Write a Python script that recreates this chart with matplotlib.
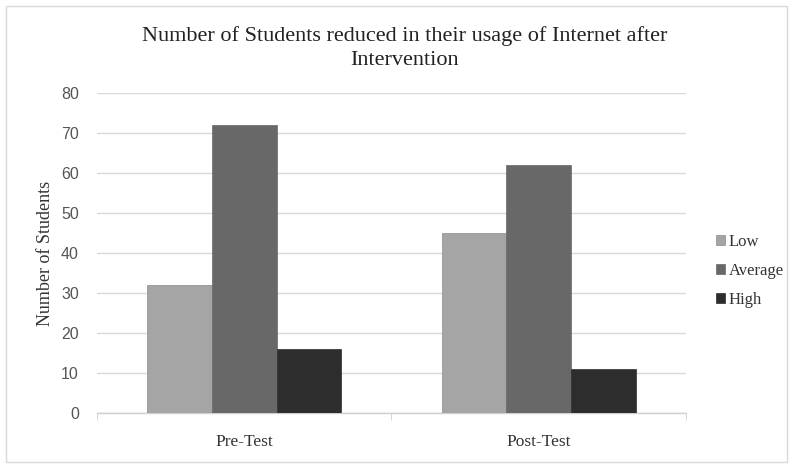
import matplotlib
matplotlib.use("Agg")
import matplotlib.pyplot as plt
from matplotlib.patches import Rectangle
import numpy as np

categories = ["Pre-Test", "Post-Test"]
series_names = ["Low", "Average", "High"]
low = [32, 45]
average = [72, 62]
high = [16, 11]
yticks = [0, 10, 20, 30, 40, 50, 60, 70, 80]

colors = ["#a5a5a5", "#686868", "#2d2d2d"]
serif = "Liberation Serif"

fig = plt.figure(figsize=(7.93, 4.67), dpi=100)
ax = fig.add_axes([0.1223, 0.1163, 0.7427, 0.6839])

x = np.arange(len(categories))
w = 0.22
for i, (vals, name) in enumerate(zip([low, average, high], series_names)):
    ax.bar(x + (i - 1) * w, vals, width=w, color=colors[i], label=name,
           edgecolor="#8a8a8a" if i == 0 else colors[i], linewidth=0.5, zorder=3)

ax.set_xlim(-0.5, 1.5)
ax.set_ylim(0, 80)
ax.set_yticks(yticks)
ax.set_yticklabels([str(t) for t in yticks], fontfamily="Liberation Sans",
                   fontsize=11.5, color="#555555")
ax.yaxis.grid(True, color="#d9d9d9", linewidth=1.0, zorder=0)
ax.tick_params(axis="y", length=0, pad=13)
ax.set_xticks(x)
ax.set_xticklabels(categories, fontfamily=serif, fontsize=12.5, color="#333333")
ax.tick_params(axis="x", length=0, pad=15)
ax.set_xticks([-0.5, 0.5, 1.5], minor=True)
ax.tick_params(axis="x", which="minor", length=5, color="#d0d0d0")
for s in ["top", "right", "left"]:
    ax.spines[s].set_visible(False)
ax.spines["bottom"].set_color("#d0d0d0")
ax.spines["bottom"].set_linewidth(1.0)

ax.set_ylabel("Number of Students", fontfamily=serif, fontsize=13, color="#333333", labelpad=5)

fig.text(0.51, 0.897, "Number of Students reduced in their usage of Internet after\nIntervention",
         ha="center", va="center", fontfamily=serif, fontsize=16, color="#222222",
         linespacing=1.3)

leg = ax.legend(loc="center left", bbox_to_anchor=(1.025, 0.444), frameon=False,
                prop={"family": serif, "size": 12}, handlelength=0.55, handleheight=0.55,
                handletextpad=0.25, labelspacing=0.8)
for t in leg.get_texts():
    t.set_color("#333333")

fig.patches.append(Rectangle((0.007, 0.01), 0.986, 0.977, transform=fig.transFigure,
                             fill=False, edgecolor="#d9d9d9", linewidth=1.0))

fig.savefig("out.png", dpi=100)
